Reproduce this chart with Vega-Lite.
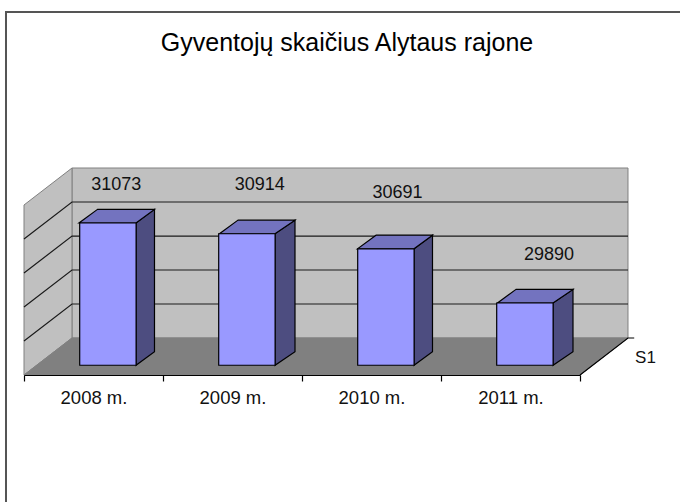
{
"$schema":"https://vega.github.io/schema/vega-lite/v6.json",
"width":680,"height":502,
"autosize":{"type":"none"},
"padding":0,
"background":"white",
"title":{"text":"Gyventojų skaičius Alytaus rajone","font":"Liberation Sans","fontSize":25,"fontWeight":"normal","color":"black","anchor":"middle","dx":7,"offset":-56},
"config":{"view":{"stroke":null},"font":"Liberation Sans"},
"datasets":{
"bars":[
{"year":"2008 m.","value":31073,"labelX":0.664,"labelV":31635},
{"year":"2009 m.","value":30914,"labelX":1.696,"labelV":31635},
{"year":"2010 m.","value":30691,"labelX":2.687,"labelV":31521},
{"year":"2011 m.","value":29890,"labelX":3.777,"labelV":30600}],
"side":[
{"year":"2008 m.","x":0.8058,"v":31073,"v0":28969},{"year":"2008 m.","x":0.9388,"v":31274,"v0":29170},
{"year":"2009 m.","x":1.8058,"v":30914,"v0":28969},{"year":"2009 m.","x":1.9496,"v":31115,"v0":29170},
{"year":"2010 m.","x":2.8058,"v":30691,"v0":28969},{"year":"2010 m.","x":2.9388,"v":30892,"v0":29170},
{"year":"2011 m.","x":3.8058,"v":29890,"v0":28969},{"year":"2011 m.","x":3.9496,"v":30091,"v0":29170}],
"top":[
{"year":"2008 m.","v":31073,"x":0.3957,"x2":0.8058},{"year":"2008 m.","v":31274,"x":0.5288,"x2":0.9388},
{"year":"2009 m.","v":30914,"x":1.4065,"x2":1.8058},{"year":"2009 m.","v":31115,"x":1.5396,"x2":1.9496},
{"year":"2010 m.","v":30691,"x":2.3993,"x2":2.8058},{"year":"2010 m.","v":30892,"x":2.5324,"x2":2.9388},
{"year":"2011 m.","v":29890,"x":3.4065,"x2":3.8058},{"year":"2011 m.","v":30091,"x":3.5396,"x2":3.9496}],
"grid":[
{"g":1,"x":0,"v":29328},{"g":1,"x":0.3453,"v":29875},{"g":1,"x":4.3453,"v":29875},
{"g":2,"x":0,"v":29831},{"g":2,"x":0.3453,"v":30378},{"g":2,"x":4.3453,"v":30378},
{"g":3,"x":0,"v":30333},{"g":3,"x":0.3453,"v":30880},{"g":3,"x":4.3453,"v":30880},
{"g":4,"x":0,"v":30836},{"g":4,"x":0.3453,"v":31383},{"g":4,"x":4.3453,"v":31383}]
},
"layer":[
{"layer":[
{"data":{"values":[{"x":-0.1295,"x2":4.8,"v":34193,"v2":26800}]},
 "mark":{"type":"rect","fill":null,"stroke":"#555555","strokeWidth":2},
 "encoding":{"x":{"field":"x","type":"quantitative","scale":{"domain":[0,4],"range":[24,580],"nice":false},"axis":null},"x2":{"field":"x2"},"y":{"field":"v","type":"quantitative","scale":{"domain":[28825,31886],"range":[375,168],"nice":false,"zero":false},"axis":null},"y2":{"field":"v2"}}},
{"data":{"values":[{"x":0.3453,"x2":4.3453,"v":31886,"v2":29372}]},
 "mark":{"type":"rect","fill":"#C0C0C0","stroke":"#808080","strokeWidth":1},
 "encoding":{"x":{"field":"x","type":"quantitative","axis":null},"x2":{"field":"x2"},"y":{"field":"v","type":"quantitative","axis":null},"y2":{"field":"v2"}}},
{"data":{"values":[{"x":0,"v":31339,"v2":28825},{"x":0.3453,"v":31886,"v2":29372}]},
 "mark":{"type":"area","fill":"#C0C0C0","stroke":"#808080","strokeWidth":1,"orient":"vertical"},
 "encoding":{"x":{"field":"x","type":"quantitative","axis":null},"y":{"field":"v","type":"quantitative","axis":null},"y2":{"field":"v2"}}},
{"data":{"values":[{"v":28825,"x":0,"x2":4},{"v":29372,"x":0.3453,"x2":4.3453}]},
 "mark":{"type":"area","fill":"#808080","stroke":"#808080","strokeWidth":1,"orient":"horizontal"},
 "encoding":{"y":{"field":"v","type":"quantitative","axis":null},"x":{"field":"x","type":"quantitative","axis":null},"x2":{"field":"x2"}}},
{"data":{"name":"grid"},
 "mark":{"type":"line","stroke":"#1a1a1a","strokeWidth":1.2},
 "encoding":{"x":{"field":"x","type":"quantitative","axis":null},"y":{"field":"v","type":"quantitative","axis":null},"detail":{"field":"g"}}},
{"data":{"values":[{"x":4,"v":28825},{"x":4.3453,"v":29372},{"x":4.39,"v":29372}]},
 "mark":{"type":"line","stroke":"black","strokeWidth":1.2},
 "encoding":{"x":{"field":"x","type":"quantitative","axis":null},"y":{"field":"v","type":"quantitative","axis":null}}},
{"data":{"name":"side"},
 "mark":{"type":"area","fill":"#4D4D80","stroke":"black","strokeWidth":1.2,"orient":"vertical"},
 "encoding":{"x":{"field":"x","type":"quantitative","axis":null},"y":{"field":"v","type":"quantitative","axis":null},"y2":{"field":"v0"},"detail":{"field":"year"}}},
{"data":{"name":"top"},
 "mark":{"type":"area","fill":"#7373BF","stroke":"black","strokeWidth":1.2,"orient":"horizontal"},
 "encoding":{"y":{"field":"v","type":"quantitative","axis":null},"x":{"field":"x","type":"quantitative","axis":null},"x2":{"field":"x2"},"detail":{"field":"year"}}},
{"data":{"name":"bars"},
 "mark":{"type":"text","fontSize":18,"font":"Liberation Sans","color":"#111111","baseline":"middle","align":"center"},
 "encoding":{"x":{"field":"labelX","type":"quantitative","axis":null},"y":{"field":"labelV","type":"quantitative","axis":null},"text":{"field":"value","type":"quantitative","format":"d"}}},
{"data":{"values":[{"x":4.471,"v":29076,"name":"S1"}]},
 "mark":{"type":"text","fontSize":17,"font":"Liberation Sans","color":"#111111","baseline":"middle","align":"center"},
 "encoding":{"x":{"field":"x","type":"quantitative","axis":null},"y":{"field":"v","type":"quantitative","axis":null},"text":{"field":"name"}}}
]},
{"data":{"name":"bars"},
 "mark":{"type":"bar","width":56.4,"xOffset":14.4,"fill":"#9999FF","stroke":"black","strokeWidth":1.2},
 "encoding":{
  "x":{"field":"year","type":"nominal","sort":null,"scale":{"paddingInner":0,"paddingOuter":0,"range":[24,580]},
   "axis":{"title":null,"orient":"bottom","offset":-127,"zindex":1,"labelAngle":0,"tickBand":"extent","tickSize":6,"domainColor":"black","tickColor":"black","domainWidth":1.2,"tickWidth":1.2,"labelColor":"#111111","labelFont":"Liberation Sans","labelFontSize":18.5,"labelPadding":7,"grid":false}},
  "y":{"field":"value","type":"quantitative","axis":null},
  "y2":{"datum":28969}}}
],
"resolve":{"scale":{"x":"independent"},"axis":{"x":"independent"}}
}
